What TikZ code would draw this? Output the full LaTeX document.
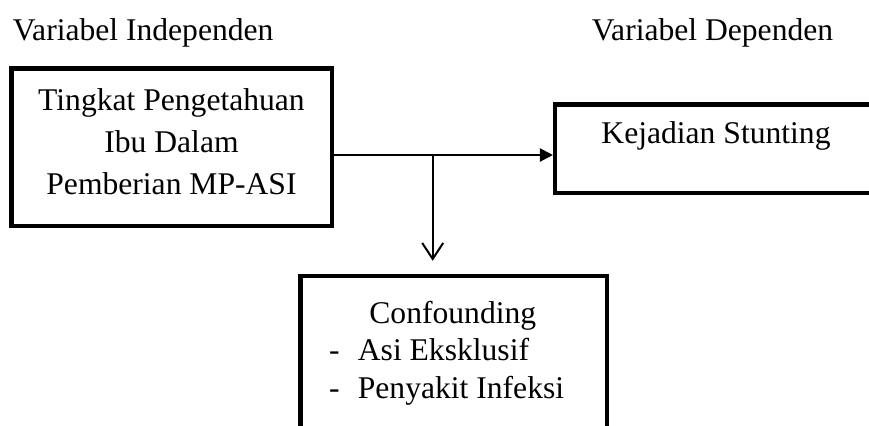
\documentclass[tikz,border=0pt]{standalone}
\usepackage{fontspec}
\setmainfont{Liberation Serif}
\usetikzlibrary{arrows.meta}
\begin{document}
\begin{tikzpicture}[x=0.5pt, y=-0.5pt,
  kotak/.style={draw=black, line width=2.25pt, inner sep=0pt},
  teks/.style={font=\fontsize{15.8}{21}\selectfont, inner sep=0pt},
  panah/.style={line width=1pt, -{Triangle[length=6.5pt,width=6.5pt]}},
  panahbuka/.style={line width=1pt, -{Straight Barb[length=8pt,width=10.5pt]}}]
\clip (0,0) rectangle (869,425);
\useasboundingbox (0,0) rectangle (869,425);
\node[teks, anchor=base west] (judulbebas) at (12.5,40) {Variabel Independen};
\node[teks, anchor=base west] (judulterikat) at (591.5,40) {Variabel Dependen};
\node[kotak, minimum width=160.25pt, minimum height=78.75pt] (pengetahuan) at (171.5,147) {};
\node[teks, align=center] (pengetahuanteks) at (171.5,141.3) {Tingkat Pengetahuan\\Ibu Dalam\\Pemberian MP-ASI};
\node[kotak, minimum width=172.375pt, minimum height=44.25pt] (stunting) at (727.6,148.5) {};
\node[teks, anchor=base] (stuntingteks) at (716,143) {Kejadian Stunting};
\node[kotak, minimum width=153.25pt, minimum height=91.875pt] (confounding) at (453.5,368.1) {};
\node[teks, font=\fontsize{15.8}{18.75}\selectfont, align=left, anchor=west] (confoundingteks) at (328.8,353.1)
  {\hspace*{20.1pt}Confounding\\-\hspace{9.1pt}Asi Eksklusif\\-\hspace{9.1pt}Penyakit Infeksi};
\coordinate (cabang) at (432.7,155);
\draw[panah] (pengetahuan.east |- cabang) -- (stunting.west |- cabang);
\draw[panahbuka, shorten >=6.6pt] (cabang) -- (cabang |- confounding.north);
\end{tikzpicture}
\end{document}
